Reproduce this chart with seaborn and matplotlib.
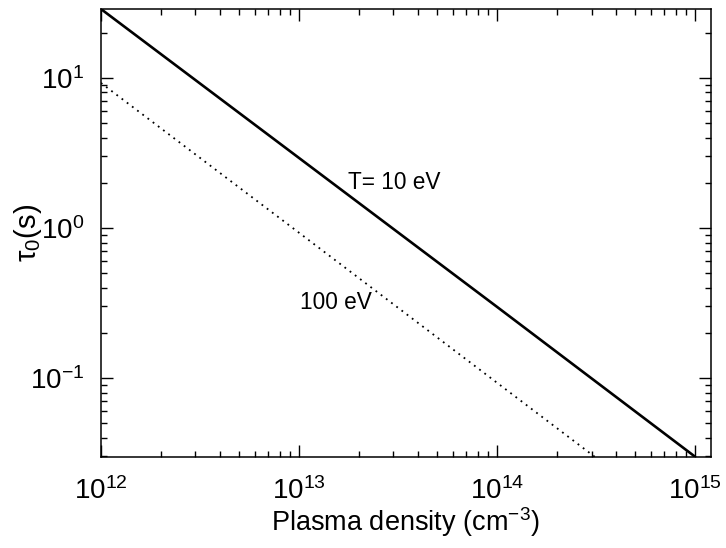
import numpy as np
import pandas as pd
import matplotlib
matplotlib.use("Agg")
import matplotlib.pyplot as plt
import seaborn as sns
from matplotlib.ticker import LogLocator, NullFormatter

# Plasma density (cm^-3) and characteristic time tau_0 (s)
density = [1e12, 1e13, 1e14, 1e15]
tau_10ev = [28.8, 2.93, 0.298, 0.0299]
tau_100ev = [9.26, 0.93, 0.093, 0.0093]

x_range = (1e12, 1.2e15)
y_range = (0.0299, 28.8)

sns.set_style("ticks")
plt.rcParams["font.family"] = ["Liberation Sans", "DejaVu Sans"]
plt.rcParams["mathtext.fontset"] = "custom"
plt.rcParams["mathtext.rm"] = "Liberation Sans"
plt.rcParams["mathtext.it"] = "Liberation Sans:italic"
plt.rcParams["mathtext.bf"] = "Liberation Sans:bold"
for key in ["text.color", "axes.labelcolor", "xtick.color", "ytick.color",
            "axes.edgecolor"]:
    plt.rcParams[key] = "black"

df10 = pd.DataFrame({"n": density, "tau": tau_10ev})
df100 = pd.DataFrame({"n": density, "tau": tau_100ev})

fig = plt.figure(figsize=(7.26, 5.48), dpi=100)
ax = fig.add_axes([0.139, 0.1666, 0.979 - 0.139, 0.9836 - 0.1666])

sns.lineplot(data=df10, x="n", y="tau", ax=ax, color="black", linewidth=1.9)
sns.lineplot(data=df100, x="n", y="tau", ax=ax, color="black", linewidth=1.3,
             linestyle=(0, (1, 2.6)))

ax.set_xscale("log")
ax.set_yscale("log")
ax.set_xlim(*x_range)
ax.set_ylim(*y_range)

ax.xaxis.set_minor_locator(LogLocator(base=10, subs=np.arange(2, 10), numticks=20))
ax.yaxis.set_minor_locator(LogLocator(base=10, subs=np.arange(2, 10), numticks=20))
ax.xaxis.set_minor_formatter(NullFormatter())
ax.yaxis.set_minor_formatter(NullFormatter())

ax.set_xticks([1e12, 1e13, 1e14, 1e15])
ax.set_xticklabels([r"$10^{12}$", r"$10^{13}$", r"$10^{14}$", r"$10^{15}$"])
ax.set_yticks([1e-1, 1e0, 1e1])
ax.set_yticklabels([r"$10^{-1}$", r"$10^{0}$", r"$10^{1}$"])

ax.tick_params(which="both", direction="in", top=True, right=True,
               width=1.0, colors="black")
ax.tick_params(which="major", length=8.6, labelsize=20)
ax.tick_params(axis="x", which="major", pad=15)
ax.tick_params(axis="y", which="major", pad=12)
ax.tick_params(which="minor", length=4.3)
for s in ax.spines.values():
    s.set_linewidth(1.1)

ax.set_xlabel("Plasma density (cm$^{-3}$)", fontsize=19.5, va="center")
ax.xaxis.set_label_coords(0.5, -0.147)
ax.set_ylabel("τ$_0$(s)", fontsize=21, va="center")
ax.yaxis.set_label_coords(-0.12, 0.5)

ax.text(1.77e13, 2.0, "T= 10 eV", fontsize=16.3, ha="left", va="center")
ax.text(1.01e13, 0.32, "100 eV", fontsize=16.3, ha="left", va="center")

fig.savefig("out.png", dpi=100)
